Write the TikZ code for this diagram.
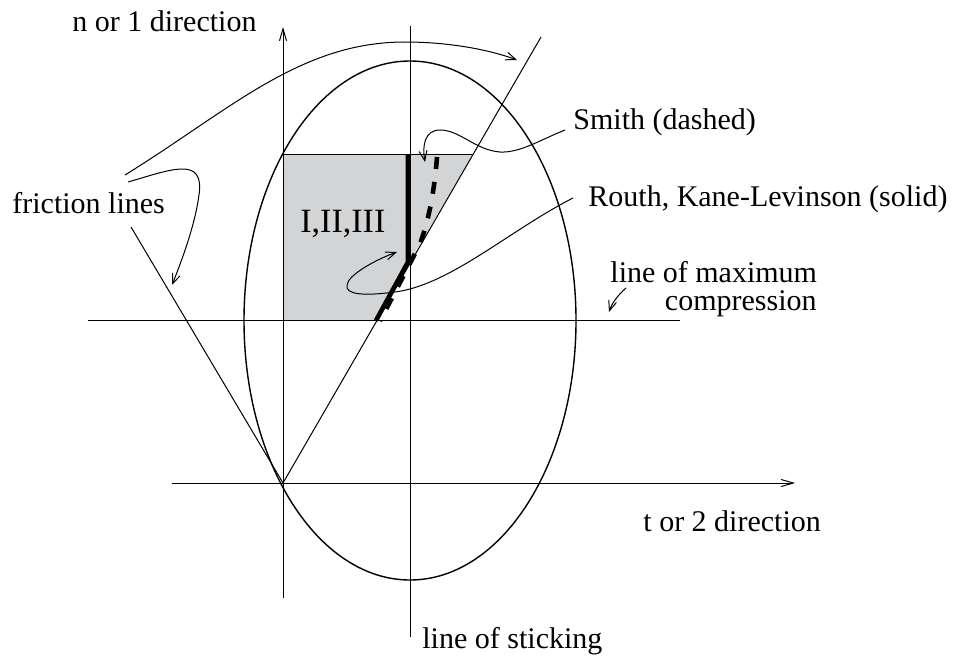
\documentclass[tikz,border=0pt]{standalone}
\usepackage{fontspec}
\setmainfont{Liberation Serif}
\usetikzlibrary{arrows.meta}
\definecolor{shadegray}{RGB}{211,212,214}
\begin{document}
\begin{tikzpicture}[x=0.5pt,y=-0.5pt,
  thinline/.style={line width=0.5pt},
  axisline/.style={line width=0.5pt,-{Straight Barb[length=6pt,width=3.5pt]}},
  leader/.style={line width=0.5pt,-{Straight Barb[length=5pt,width=4pt]}},
  lbl/.style={inner sep=0pt,font=\fontsize{15}{18}\selectfont},
  thickpath/.style={line width=2.3pt},
]
\useasboundingbox (0,0) rectangle (956,658);
\coordinate (O) at (283,483);
\coordinate (C) at (410,320.5);
% shaded region
\fill[shadegray] (283,154) -- (473,154) -- (375.5,320.5) -- (283,320.5) -- cycle;
\draw[thinline] (283,154) -- (473,154);
% ellipse
\draw[line width=0.7pt] (C) ellipse [x radius=166, y radius=259.5];
% axes and lines
\coordinate (nb) at (283,598); \coordinate (nt) at (283,27);
\coordinate (tl) at (172,483); \coordinate (tr) at (795,483);
\coordinate (sb) at (410,637); \coordinate (st) at (410,26);
\coordinate (cl) at (88,320.5); \coordinate (cr) at (680,320.5);
\coordinate (fr) at (541,37); \coordinate (fl) at (131,227);
\draw[axisline] (nb) -- (nt);
\draw[axisline] (tl) -- (tr);
\draw[thinline] (sb) -- (st);
\draw[thinline] (cl) -- (cr);
\draw[thinline] (O) -- (fr);
\draw[thinline] (O) -- (fl);
% thick solid and dashed
\draw[thickpath] (408,154) -- (408,262) -- (376,320.5);
\draw[thickpath,dash pattern=on 6pt off 6.5pt] (437,157) .. controls (434,195) and (428,222) .. (420,244) -- (380,321);
% labels
\node[lbl,anchor=base west] (ndir) at (72,32) {n or 1 direction};
\node[lbl,anchor=base west] (fric) at (12,213) {friction lines};
\node[lbl,anchor=base west,font=\fontsize{17}{20}\selectfont] (reg) at (300,232) {I,II,III};
\node[lbl,anchor=base west] (smith) at (573,129) {Smith (dashed)};
\node[lbl,anchor=base west] (routh) at (588,206) {Routh, Kane-Levinson (solid)};
\node[lbl,anchor=base west] (lmc) at (610,282) {line of maximum};
\node[lbl,anchor=base east] (comp) at (817,310) {compression};
\node[lbl,anchor=base west] (tdir) at (643,531) {t or 2 direction};
\node[lbl,anchor=base west] (stick) at (422,648) {line of sticking};
% leaders
\coordinate (f1s) at (125,175); \coordinate (f1e) at (517,60);
\coordinate (f2s) at (128,182); \coordinate (f2e) at (172,285);
\draw[leader] (f1s) .. controls (230,110) and (300,42) .. (405,42) .. controls (450,42) and (490,50) .. (f1e);
\draw[leader] (f2s) .. controls (170,170) and (205,155) .. (199,195) .. controls (195,225) and (182,260) .. (f2e);
\coordinate (sms) at (565,130); \coordinate (sme) at (425,162);
\draw[leader] (sms) .. controls (540,140) and (520,153) .. (500,152) .. controls (475,150) and (460,130) .. (440,130) .. controls (425,130) and (422,145) .. (sme);
\coordinate (rts) at (573,198); \coordinate (rte) at (397,252);
\draw[leader] (rts) .. controls (510,230) and (450,285) .. (395,292) .. controls (365,296) and (345,295) .. (347,285) .. controls (348,275) and (375,260) .. (rte);
\coordinate (lms) at (626,288); \coordinate (lme) at (609,312);
\draw[leader] (lms) .. controls (618,295) and (612,303) .. (lme);
\end{tikzpicture}
\end{document}
